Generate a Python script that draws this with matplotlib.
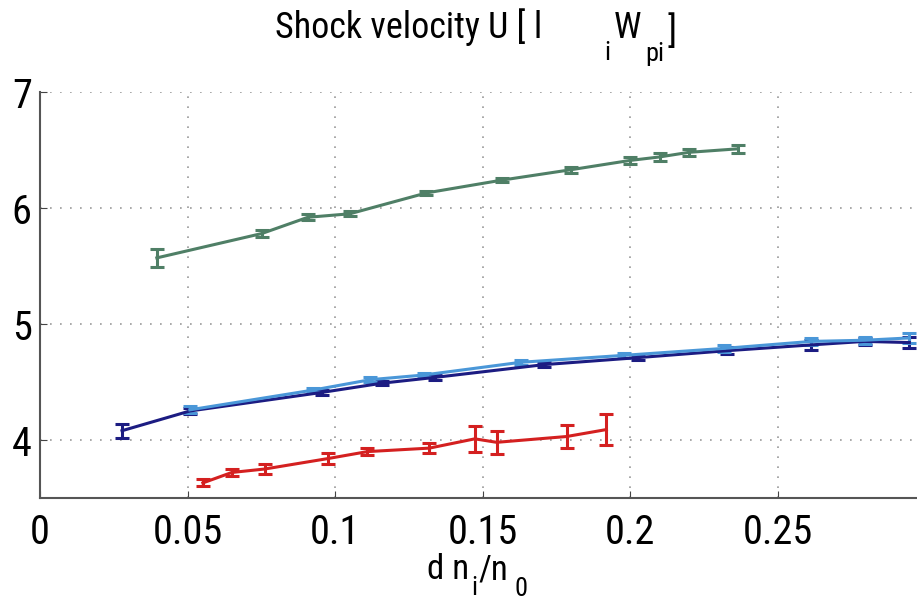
import matplotlib.pyplot as plt
import matplotlib
from matplotlib import font_manager

names = {f.name for f in font_manager.fontManager.ttflist}
narrow = [n for n in ['Roboto Condensed', 'Liberation Sans Narrow', 'DejaVu Sans Condensed',
                      'Open Sans Condensed', 'Noto Sans Condensed'] if n in names]
main_font = narrow[0] if narrow else 'DejaVu Sans'

matplotlib.rcParams['font.family'] = [main_font, 'DejaVu Sans']
if not narrow:
    matplotlib.rcParams['font.stretch'] = 'condensed'

# green series
green_x = [0.0396, 0.0752, 0.0908, 0.105, 0.131, 0.1565, 0.180, 0.200, 0.210, 0.220, 0.2365]
green_y = [5.57, 5.78, 5.92, 5.95, 6.13, 6.24, 6.33, 6.41, 6.44, 6.48, 6.51]
green_err = [0.08, 0.03, 0.025, 0.02, 0.02, 0.02, 0.025, 0.03, 0.035, 0.03, 0.035]

# dark blue series
navy_x = [0.0278, 0.0508, 0.0955, 0.116, 0.134, 0.171, 0.2026, 0.233, 0.2615, 0.2795, 0.2947]
navy_y = [4.08, 4.25, 4.41, 4.49, 4.54, 4.65, 4.71, 4.77, 4.82, 4.85, 4.84]
navy_err = [0.06, 0.03, 0.02, 0.02, 0.02, 0.02, 0.02, 0.03, 0.04, 0.03, 0.05]

# light blue series
light_x = [0.0508, 0.0925, 0.112, 0.130, 0.163, 0.198, 0.232, 0.2615, 0.2795, 0.2947]
light_y = [4.26, 4.43, 4.52, 4.56, 4.67, 4.73, 4.79, 4.85, 4.86, 4.88]
light_err = [0.03, 0.02, 0.02, 0.02, 0.02, 0.02, 0.03, 0.03, 0.03, 0.04]

# red series
red_x = [0.0552, 0.065, 0.0762, 0.0976, 0.111, 0.132, 0.1474, 0.1548, 0.1785, 0.192]
red_y = [3.63, 3.72, 3.75, 3.84, 3.90, 3.93, 4.01, 3.98, 4.03, 4.09]
red_err = [0.03, 0.03, 0.04, 0.05, 0.03, 0.04, 0.11, 0.10, 0.10, 0.13]

W, H = 917, 601
fig = plt.figure(figsize=(W / 100, H / 100), dpi=100)
ax = fig.add_axes([40 / W, 103 / H, 885 / W, 406 / H])

series = [
    (green_x, green_y, green_err, '#4f7f66'),
    (navy_x, navy_y, navy_err, '#1c1c82'),
    (light_x, light_y, light_err, '#4a97d8'),
    (red_x, red_y, red_err, '#d42020'),
]
for x, y, e, c in series:
    ax.errorbar(x, y, yerr=e, color=c, lw=2.2, elinewidth=2.2, capsize=5, capthick=2.2)

ax.set_xlim(0, 0.3)
ax.set_ylim(3.5, 7)
ax.set_xticks([0, 0.05, 0.1, 0.15, 0.2, 0.25, 0.3])
ax.set_xticklabels(['0', '0.05', '0.1', '0.15', '0.2', '0.25', ''])
ax.set_yticks([4, 5, 6, 7])
ax.set_yticklabels(['4', '5', '6', '7'])
ax.tick_params(direction='in', length=5, labelsize=29, color='#444444')
ax.tick_params(axis='x', pad=11)
ax.tick_params(axis='y', pad=6)
ax.grid(True, linestyle=(0, (1, 5)), color='#999999', lw=1.2)
ax.spines['top'].set_visible(False)
ax.spines['right'].set_visible(False)
for s in ['left', 'bottom']:
    ax.spines[s].set_color('#555555')
    ax.spines[s].set_linewidth(1.5)


def label(px, py, s, size):
    # px, py in pixels from the top-left corner, py is the baseline
    fig.text(px / W, 1 - py / H, s, ha='left', va='baseline', fontsize=size)


# title: Shock velocity U [ l_i W_pi ]
label(275, 38, 'Shock velocity U [ l', 26)
label(604, 60, 'i', 19)
label(614, 38, 'W', 26)
label(645, 61, 'pi', 19)
label(668, 42, ']', 26)

# x label: d n_i / n_0
label(427, 579, 'd n', 25)
label(471, 595, 'i', 19)
label(478, 579, '/n', 25)
label(514, 596, '0', 19)

fig.savefig('out.png', dpi=100, facecolor='white')
